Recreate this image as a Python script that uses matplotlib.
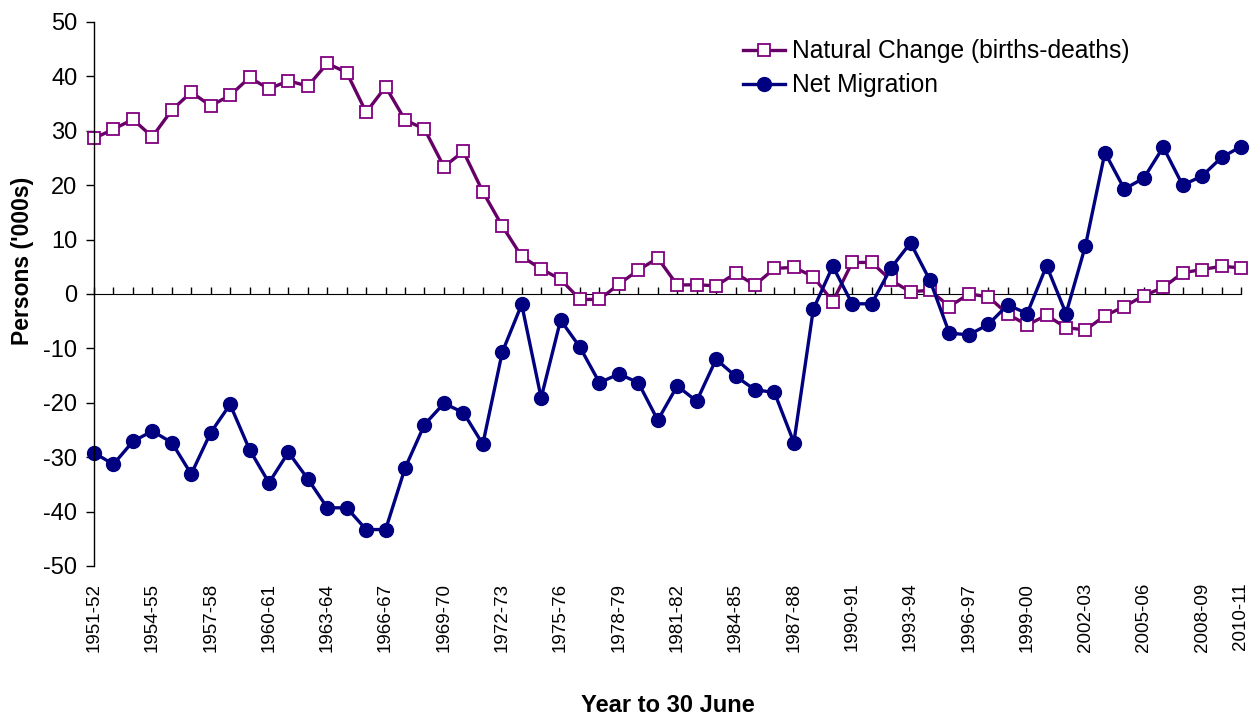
import matplotlib.pyplot as plt

plt.rcParams['font.family'] = ['Liberation Sans', 'DejaVu Sans']
plt.rcParams['axes.unicode_minus'] = False

years = [f'{y}-{str(y + 1)[-2:]}' for y in range(1951, 2011)]

natural_change = [
    28.6, 30.3, 32.1, 28.9, 33.8, 37.1, 34.6, 36.5, 39.8, 37.7,
    39.2, 38.2, 42.4, 40.7, 33.4, 38.1, 32.0, 30.3, 23.4, 26.2,
    18.8, 12.5, 6.9, 4.6, 2.7, -1.0, -1.0, 1.8, 4.4, 6.6,
    1.65, 1.7, 1.5, 3.8, 1.65, 4.7, 4.9, 3.2, -1.4, 5.8,
    5.8, 2.5, 0.4, 0.7, -2.3, 0.0, -0.5, -3.7, -5.7, -3.9,
    -6.2, -6.6, -4.0, -2.3, -0.3, 1.2, 3.9, 4.5, 5.1, 4.8,
]

net_migration = [
    -29.2, -31.3, -27.1, -25.2, -27.3, -33.1, -25.5, -20.3, -28.6, -34.7,
    -29.1, -34.0, -39.3, -39.3, -43.3, -43.3, -32.0, -24.0, -20.1, -21.8,
    -27.6, -10.7, -1.9, -19.1, -4.8, -9.8, -16.3, -14.7, -16.3, -23.2,
    -16.9, -19.7, -12.0, -15.1, -17.6, -18.1, -27.3, -2.8, 5.1, -1.8,
    -1.8, 4.8, 9.4, 2.5, -7.2, -7.5, -5.6, -2.0, -3.6, 5.2,
    -3.6, 8.9, 26.0, 19.3, 21.3, 27.0, 20.0, 21.7, 25.1, 27.1,
]

# every third year is labelled, plus the last one
label_idx = list(range(0, len(years), 3)) + [len(years) - 1]

fig = plt.figure(figsize=(12.51, 7.18), dpi=100)
ax = fig.add_axes([94 / 1251, 1 - 566 / 718, 1147 / 1251, 544 / 718])

x = list(range(len(years)))
ax.plot(x, natural_change, color='#660066', linewidth=2.4, marker='s',
        markersize=8, markerfacecolor='white', markeredgecolor='#800080',
        markeredgewidth=1.3, label='Natural Change (births-deaths)', clip_on=False)
ax.plot(x, net_migration, color='#000080', linewidth=2.4, marker='o',
        markersize=10, markerfacecolor='#000080', markeredgecolor='#000080',
        label='Net Migration', clip_on=False)

ax.set_xlim(0, len(years) - 1)
ax.set_ylim(-50, 50)
ax.set_yticks(range(-50, 51, 10))
ax.tick_params(axis='y', labelsize=17, length=6, width=1, direction='out', pad=6)

for side in ['top', 'right', 'bottom']:
    ax.spines[side].set_visible(False)
ax.spines['left'].set_linewidth(1)

# category labels along the bottom, no tick marks there
ax.set_xticks(label_idx)
ax.set_xticklabels([years[i] for i in label_idx], rotation=90)
ax.tick_params(axis='x', labelsize=13.5, length=0, pad=12)

# the zero line carries the category tick marks
zero_axis = ax.secondary_xaxis(0.5)
zero_axis.set_xticks(x)
zero_axis.set_xticklabels([])
zero_axis.tick_params(length=5, width=1, direction='out')
zero_axis.spines['bottom'].set_linewidth(1)

ax.set_xlabel('Year to 30 June', fontsize=17, fontweight='bold')
ax.xaxis.set_label_coords(0.5, -0.235)
ax.set_ylabel("Persons ('000s)", fontsize=16.5, fontweight='bold')
ax.yaxis.set_label_coords(-0.052, 0.56)

ax.legend(loc='upper left', bbox_to_anchor=(0.553, 0.995), frameon=False,
          fontsize=17.7, handlelength=1.7, handletextpad=0.3, labelspacing=0.4,
          borderaxespad=0.2)

fig.savefig('out.png', dpi=100)
